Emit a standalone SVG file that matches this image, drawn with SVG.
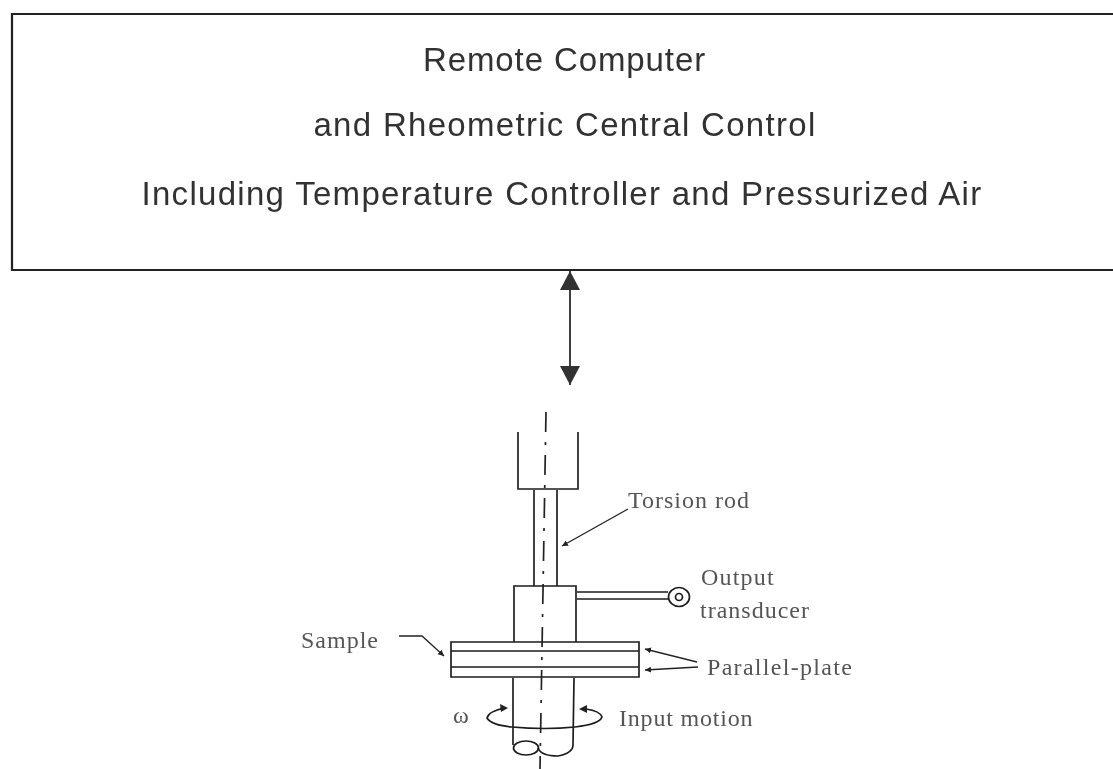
<svg xmlns="http://www.w3.org/2000/svg" width="1113" height="769" viewBox="0 0 1113 769">
<defs>
<marker id="big" markerWidth="20" markerHeight="20" refX="19" refY="10" orient="auto-start-reverse" markerUnits="userSpaceOnUse"><path d="M0 0L19 10L0 20Z" fill="#333"/></marker>
<marker id="small" markerWidth="8" markerHeight="8" refX="6" refY="4" orient="auto-start-reverse" markerUnits="userSpaceOnUse"><path d="M0 1L6 4L0 7Z" fill="#222"/></marker>
<filter id="soft" x="-2%" y="-2%" width="104%" height="104%"><feGaussianBlur stdDeviation="0.55"/></filter>
</defs>
<style>
.ln{fill:none;stroke:#1e1e1e;stroke-width:1.7}
.axis{fill:none;stroke:#222;stroke-width:1.7;stroke-dasharray:20 10 3 10}
.a{fill:none;stroke:#222;stroke-width:1.3}
.h{font-family:"Liberation Sans",Arial,sans-serif;font-size:33px;letter-spacing:1.3px;fill:#333;text-anchor:middle}
.t{font-family:"Liberation Serif","Times New Roman",serif;font-size:24px;letter-spacing:1px;fill:#555}
</style>
<rect width="1113" height="769" fill="#fff"/>
<g id="control-box" filter="url(#soft)">
<path d="M1113 14H12V270H1113" fill="none" stroke="#222" stroke-width="2.2"/>
<text class="h" x="564.500" y="71" style="letter-spacing:.9px">Remote Computer</text>
<text class="h" x="565" y="136">and Rheometric Central Control</text>
<text class="h" x="562" y="205">Including Temperature Controller and Pressurized Air</text>
</g>
<g id="connectors" filter="url(#soft)">
<path d="M570 271V385" stroke="#333" stroke-width="1.9" fill="none" marker-start="url(#big)" marker-end="url(#big)"/>
<path class="a" d="M628 509L562 546" marker-end="url(#small)"/>
<path class="a" d="M399 636H422L444 656" marker-end="url(#small)"/>
<path class="a" d="M697 662L645 649" marker-end="url(#small)"/>
<path class="a" d="M698 667L645 670" marker-end="url(#small)"/>
</g>
<g id="rheometer" filter="url(#soft)">
<path class="axis" d="M546 412L540 769"/>
<path class="ln" d="M518 432V489H578V432"/>
<path class="ln" d="M534 490V586M557 490V586"/>
<path class="ln" d="M514 642V586H576V642"/>
<path class="ln" d="M451 642H639V677H451Z"/>
<path class="ln" d="M451 651H639M451 667H639"/>
<path class="ln" d="M513 678V745M574 678L573 745Q573 753 558 756Q541 756 538 748"/>
<ellipse class="ln" cx="526" cy="748" rx="12.500" ry="7"/>
<path class="ln" d="M505 708Q489 711 487 718Q491 725 512 727Q545 730 575 727Q600 724 602 717Q600 711 586 709"/>
<path d="M508 708L500 704L501 712Z" fill="#222"/>
<path d="M579 709L587 705L587 713Z" fill="#222"/>
<path class="ln" d="M577 592H668M577 599H668"/>
<ellipse class="ln" cx="679" cy="597" rx="10.500" ry="9.500"/>
<circle class="ln" cx="679" cy="597" r="3.500"/>
</g>
<g id="labels" filter="url(#soft)">
<text class="t" x="628" y="508">Torsion rod</text>
<text class="t" x="701" y="585" style="letter-spacing:1.2px">Output</text>
<text class="t" x="700" y="618">transducer</text>
<text class="t" x="301" y="648">Sample</text>
<text class="t" x="707" y="675" style="letter-spacing:1.3px">Parallel-plate</text>
<text class="t" x="619" y="726" style="letter-spacing:.8px">Input motion</text>
<text class="t" x="453" y="723">ω</text>
</g>
</svg>
